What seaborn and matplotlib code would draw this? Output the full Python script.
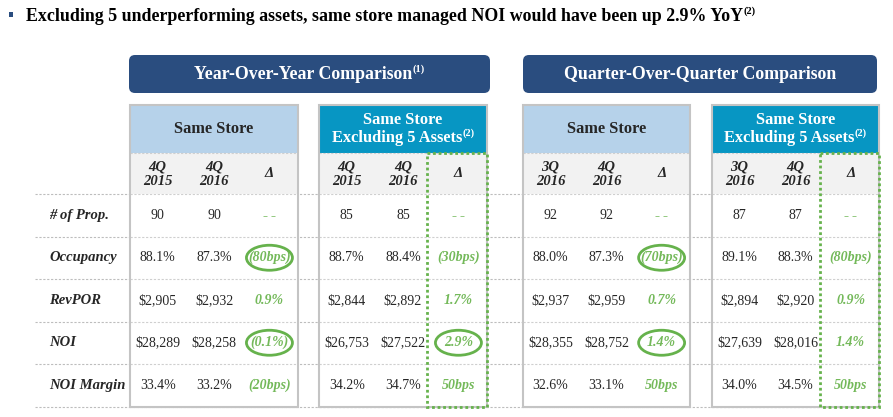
import matplotlib
matplotlib.use("Agg")
import matplotlib.pyplot as plt
from matplotlib.patches import FancyBboxPatch, Rectangle, Ellipse
import seaborn as sns

sns.set_style("white")
plt.rcParams["font.family"] = ["Liberation Serif", "DejaVu Serif"]

title = "Excluding 5 underperforming assets, same store managed NOI would have been up 2.9% YoY"
row_labels = ["# of Prop.", "Occupancy", "RevPOR", "NOI", "NOI Margin"]

# year-over-year
yoy_ss_4q15 = ["90", "88.1%", "$2,905", "$28,289", "33.4%"]
yoy_ss_4q16 = ["90", "87.3%", "$2,932", "$28,258", "33.2%"]
yoy_ss_delta = ["--", "(80bps)", "0.9%", "(0.1%)", "(20bps)"]
yoy_ex_4q15 = ["85", "88.7%", "$2,844", "$26,753", "34.2%"]
yoy_ex_4q16 = ["85", "88.4%", "$2,892", "$27,522", "34.7%"]
yoy_ex_delta = ["--", "(30bps)", "1.7%", "2.9%", "50bps"]

# quarter-over-quarter
qoq_ss_3q16 = ["92", "88.0%", "$2,937", "$28,355", "32.6%"]
qoq_ss_4q16 = ["92", "87.3%", "$2,959", "$28,752", "33.1%"]
qoq_ss_delta = ["--", "(70bps)", "0.7%", "1.4%", "50bps"]
qoq_ex_3q16 = ["87", "89.1%", "$2,894", "$27,639", "34.0%"]
qoq_ex_4q16 = ["87", "88.3%", "$2,920", "$28,016", "34.5%"]
qoq_ex_delta = ["--", "(80bps)", "0.9%", "1.4%", "50bps"]

# rows whose delta is circled
yoy_ss_circled = ["Occupancy", "NOI"]
yoy_ex_circled = ["NOI"]
qoq_ss_circled = ["Occupancy", "NOI"]
qoq_ex_circled = []

NAVY = "#2a4d7f"
LIGHT = "#b6d2ea"
TEAL = "#0796c3"
GREY_ROW = "#f2f2f2"
BORDER = "#c4c4c4"
GREEN = "#74b95a"
GREEN_LINE = "#66b24c"

fig = plt.figure(figsize=(8.93, 4.17), dpi=100)
ax = fig.add_axes([0, 0, 1, 1])
ax.set_xlim(0, 893)
ax.set_ylim(417, 0)
ax.axis("off")
renderer = fig.canvas.get_renderer()


def width_of(s, **kw):
    t = ax.text(0, 0, s, **kw)
    w = t.get_window_extent(renderer).width
    t.remove()
    return w


def text_sup(x, y, main, sup, size, sup_size, ha="center", **kw):
    wm = width_of(main, fontsize=size, **kw)
    ws = width_of(sup, fontsize=sup_size, **kw)
    x0 = x - (wm + ws) / 2 if ha == "center" else x
    ax.text(x0, y, main, fontsize=size, ha="left", va="center", **kw)
    ax.text(x0 + wm, y - size * 0.38, sup, fontsize=sup_size, ha="left", va="center", **kw)


# headline
ax.add_patch(Rectangle((8.5, 12), 4.5, 4.5, fc=NAVY, ec="none"))
text_sup(26, 16, title, "(2)", 12.9, 7.5, ha="left", fontweight="bold", color="black")

ROW_TOP = 194
ROW_H = 42.5
HDR_TOP, HDR_BOT, SUB_BOT = 105, 152.5, ROW_TOP
row_y = [ROW_TOP + ROW_H * (i + 0.5) for i in range(len(row_labels))]
BOTTOM = ROW_TOP + ROW_H * len(row_labels)

# dashed row separators
for i in range(len(row_labels) + 1):
    yy = ROW_TOP + ROW_H * i
    ax.plot([35, 879], [yy, yy], color="#bdbdbd", lw=0.8, ls=(0, (2, 1.5)), zorder=1)

for lab, yy in zip(row_labels, row_y):
    ax.text(49, yy, lab, fontsize=10.5, fontstyle="italic", fontweight="bold", va="center")

# banners
for x0, x1, txt, sup in [(129, 490, "Year-Over-Year Comparison", "(1)"),
                         (523, 877, "Quarter-Over-Quarter Comparison", "")]:
    ax.add_patch(FancyBboxPatch((x0 + 5, 60), x1 - x0 - 10, 28,
                                boxstyle="round,pad=5,rounding_size=6",
                                fc=NAVY, ec="none", zorder=2))
    text_sup((x0 + x1) / 2, 74, txt, sup, 12.8, 7.5, color="white", fontweight="bold", zorder=3)

groups = [
    (130, 298, "ss", ["4Q\n2015", "4Q\n2016"], [yoy_ss_4q15, yoy_ss_4q16, yoy_ss_delta], yoy_ss_circled),
    (319, 487, "ex", ["4Q\n2015", "4Q\n2016"], [yoy_ex_4q15, yoy_ex_4q16, yoy_ex_delta], yoy_ex_circled),
    (523, 690, "ss", ["3Q\n2016", "4Q\n2016"], [qoq_ss_3q16, qoq_ss_4q16, qoq_ss_delta], qoq_ss_circled),
    (712, 879, "ex", ["3Q\n2016", "4Q\n2016"], [qoq_ex_3q16, qoq_ex_4q16, qoq_ex_delta], qoq_ex_circled),
]

for x0, x1, kind, periods, cols, circled in groups:
    w = x1 - x0
    cx = [x0 + w * 0.165, x0 + w * 0.5, x0 + w * 0.83]
    # body background
    ax.add_patch(Rectangle((x0, SUB_BOT), w, BOTTOM - SUB_BOT, fc="white", ec="none", zorder=1.5))
    for i in range(len(row_labels) + 1):
        yy = ROW_TOP + ROW_H * i
        ax.plot([x0, x1], [yy, yy], color="#cfcfcf", lw=0.8, ls=(0, (2, 1.5)), zorder=1.6)
    # header
    if kind == "ss":
        ax.add_patch(Rectangle((x0, HDR_TOP), w, HDR_BOT - HDR_TOP, fc=LIGHT, ec="none", zorder=2))
        ax.text(x0 + w / 2, (HDR_TOP + HDR_BOT) / 2, "Same Store", fontsize=11.8,
                fontweight="bold", ha="center", va="center", zorder=3)
    else:
        ax.add_patch(Rectangle((x0, HDR_TOP), w, HDR_BOT - HDR_TOP, fc=TEAL, ec="none", zorder=2))
        ax.text(x0 + w / 2, 120, "Same Store", fontsize=11.8, color="white",
                fontweight="bold", ha="center", va="center", zorder=3)
        text_sup(x0 + w / 2, 138, "Excluding 5 Assets", "(2)", 11.8, 7.5,
                 color="white", fontweight="bold", zorder=3)
    # sub header
    ax.add_patch(Rectangle((x0, HDR_BOT), w, SUB_BOT - HDR_BOT, fc=GREY_ROW, ec="none", zorder=2))
    ax.plot([x0, x1], [HDR_BOT, HDR_BOT], color="#cfcfcf", lw=0.8, ls=(0, (2, 1.5)), zorder=2.5)
    for c, p in zip(cx[:2], periods):
        ax.text(c, (HDR_BOT + SUB_BOT) / 2 + 1, p, fontsize=10.5, fontweight="bold", fontstyle="italic",
                ha="center", va="center", linespacing=1.15, zorder=3)
    ax.text(cx[2], (HDR_BOT + SUB_BOT) / 2, "\u0394", fontsize=10.5, fontweight="bold",
            fontstyle="italic", ha="center", va="center", zorder=3)
    # values
    for j, vals in enumerate(cols):
        for lab, yy, v in zip(row_labels, row_y, vals):
            if j < 2:
                ax.text(cx[j], yy, v, fontsize=10, ha="center", va="center", zorder=3)
            elif v == "--":
                ax.text(cx[j], yy + 1, "-\u2009-", fontsize=11, color=GREEN, fontweight="bold",
                        ha="center", va="center", zorder=3)
            else:
                ax.text(cx[j], yy, v, fontsize=10, color=GREEN, fontstyle="italic",
                        fontweight="bold", ha="center", va="center", zorder=3)
            if j == 2 and lab in circled:
                ax.add_patch(Ellipse((cx[j], yy), 46, 25, fc="none", ec=GREEN_LINE, lw=2, zorder=4))
    # grey outline
    ax.add_patch(Rectangle((x0, HDR_TOP), w, BOTTOM - HDR_TOP, fc="none", ec=BORDER, lw=1.5, zorder=3.5))
    if kind == "ex":
        dx0 = x0 + w * 0.645
        ax.add_patch(Rectangle((dx0, HDR_BOT), x1 - dx0, BOTTOM - HDR_BOT, fc="none",
                               ec=GREEN_LINE, lw=2, ls=(0, (1, 1)), zorder=3.8))

fig.savefig("out.png", dpi=100)
